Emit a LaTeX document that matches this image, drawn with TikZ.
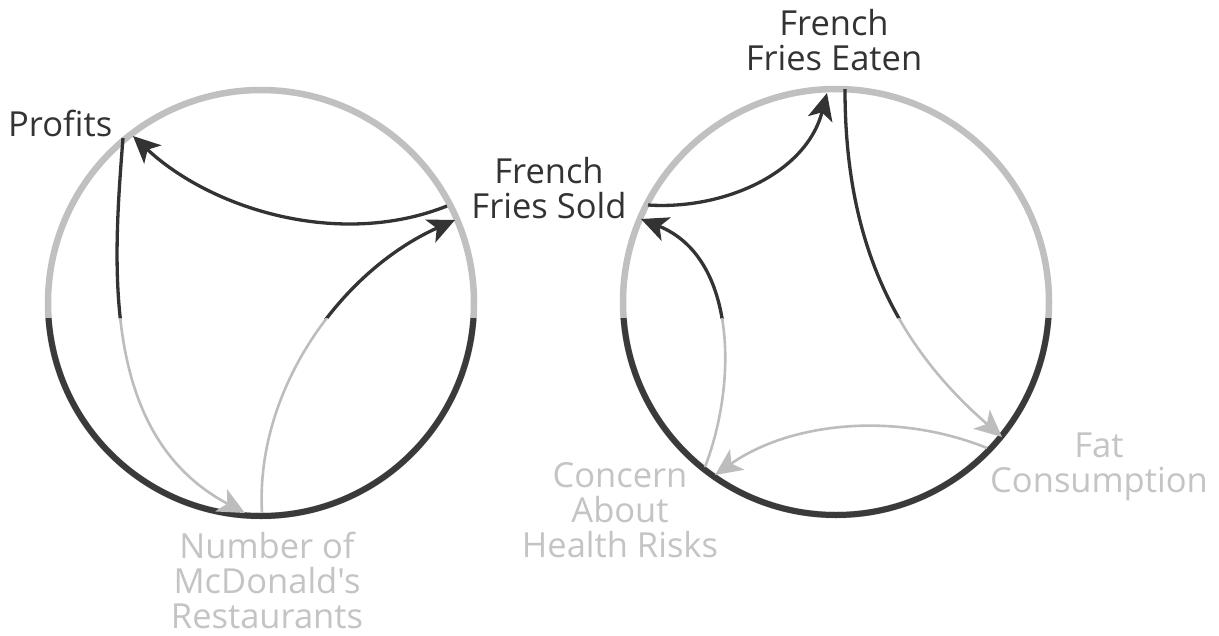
\documentclass[tikz,border=0pt]{standalone}
\usepackage{fontspec}
\setmainfont{Open Sans}[Ligatures=TeXOff]
\usetikzlibrary{arrows.meta}
\definecolor{ringgray}{HTML}{C0C0C0}
\definecolor{ringdark}{HTML}{3A3A3A}
\definecolor{darkline}{HTML}{333333}
\definecolor{lightline}{HTML}{BDBDBD}
\definecolor{lighttext}{HTML}{C4C4C4}
\tikzset{
  link/.style={-{Stealth[length=27pt,width=25pt,inset=7pt]}},
  ringup/.style={draw=ringgray,line width=6.5pt},
  ringdown/.style={draw=ringdark,line width=6pt},
  lbl/.style={inner sep=0pt,align=center,font=\fontsize{34.5}{35}\selectfont},
  darklabel/.style={lbl,text=darkline},
  lightlabel/.style={lbl,text=lighttext},
}
\newcommand\myallinks{%
  \draw[link] (lFFSout) .. controls (339,249) and (211,209) .. (lProfIn);
  \draw[link] (lProfOut) .. controls (113,266) and (100,436) .. (lNumIn);
  \draw[link] (lNumOut) .. controls (255,390) and (341,271) .. (lFFSin);
  \draw[link] (rFFSout) .. controls (723,210) and (806,174) .. (rFFEin);
  \draw[link] (rFFEout) .. controls (845,222) and (882,333) .. (rFatIn);
  \draw[link] (rFatOut) .. controls (898,412) and (792,421) .. (rConIn);
  \draw[link] (rConOut) .. controls (738,381) and (736,257) .. (rFFSin);
}
\begin{document}
\begin{tikzpicture}[x=1pt,y=-1pt]
\useasboundingbox (0,0) rectangle (1219,635);
\fill[white] (0,0) rectangle (1219,635);
% circle centres
\coordinate (cl) at (261,303);
\coordinate (cr) at (836,302);
% connection points
\coordinate (lFFSout) at (447,206);
\coordinate (lProfIn) at (133,136);
\coordinate (lProfOut) at (123,138);
\coordinate (lNumIn) at (245,513);
\coordinate (lNumOut) at (262,513);
\coordinate (lFFSin) at (455,220);
\coordinate (rFFSout) at (648,205);
\coordinate (rFFEin) at (827,93);
\coordinate (rFFEout) at (845,89);
\coordinate (rFatIn) at (1002,437);
\coordinate (rFatOut) at (987,448);
\coordinate (rConIn) at (715,475);
\coordinate (rConOut) at (705,467);
\coordinate (rFFSin) at (641,219);
% rings
\draw[ringup] (cl) circle (213);
\draw[ringup] (cr) circle (213);
\begin{scope}
  \clip (0,318) rectangle (1219,635);
  \draw[ringdown] (cl) circle (213);
  \draw[ringdown] (cr) circle (213);
\end{scope}
% connectors: dark above the split, light below
\begin{scope}[darkline,line width=3.3pt]
  \clip (0,0) rectangle (1219,318);
  \myallinks
\end{scope}
\begin{scope}[lightline,line width=2.6pt]
  \clip (0,318) rectangle (1219,635);
  \myallinks
\end{scope}
% labels (anchor base = baseline of the last line)
\node[darklabel,anchor=base west] (profits) at (8,136) {Profits};
\node[darklabel,anchor=base] (ffsold) at (549,218) {French\\Fries Sold};
\node[darklabel,anchor=base] (ffeaten) at (834,70) {French\\Fries Eaten};
\node[lightlabel,anchor=base] (number) at (267,628) {Number of\\McDonald's\\Restaurants};
\node[lightlabel,anchor=base] (concern) at (620,557) {Concern\\About\\Health Risks};
\node[lightlabel,anchor=base] (fat) at (1099,492) {Fat\\Consumption};
\end{tikzpicture}
\end{document}
